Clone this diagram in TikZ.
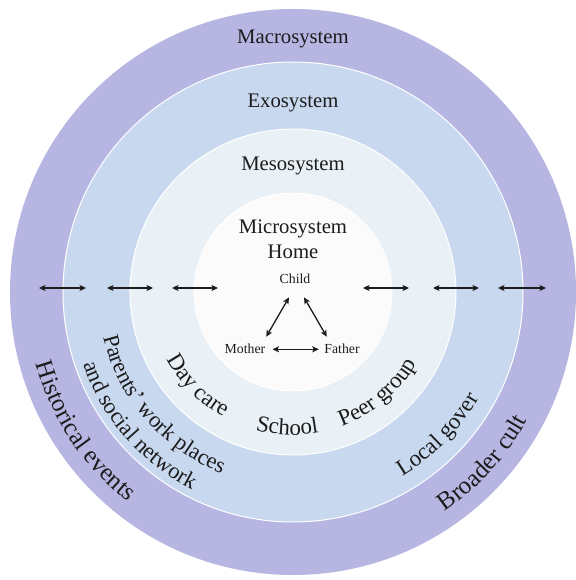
\documentclass[tikz,border=0pt]{standalone}
\usepackage{fontspec}
\setmainfont{Liberation Serif}
\usetikzlibrary{arrows.meta,decorations.text,calc}

\definecolor{macroC}{RGB}{183,181,226}
\definecolor{exoC}{RGB}{200,216,238}
\definecolor{mesoC}{RGB}{233,241,246}
\definecolor{microC}{RGB}{251,251,251}
\definecolor{ink}{RGB}{28,28,28}

% text set along a circular arc centred on the origin:
% #1 radius, #2 angle of the text centre, #3 font size, #4 text
\newcommand\bandtext[4]{%
  \path[decorate, decoration={text along path, text align=center,
      text color=ink, text={|\fontsize{#3}{#3}\selectfont|#4}}]
    ({#2-60}:#1) arc[start angle={#2-60}, end angle={#2+60}, radius=#1];}

\begin{document}
\begin{tikzpicture}[x=1pt,y=1pt,
  ring/.style={draw=white, line width=1pt},
  ringlabel/.style={font=\fontsize{20.7}{24}\selectfont, text=ink, anchor=base, inner sep=0pt},
  member/.style={font=\fontsize{13.8}{16}\selectfont, text=ink, anchor=base, inner sep=0pt},
  biarrow/.style={{Stealth[length=6.5pt,width=6pt,inset=1.5pt]}-{Stealth[length=6.5pt,width=6pt,inset=1.5pt]},
    line width=1.3pt, draw=ink}]
\useasboundingbox (-293,-288) rectangle (282,292);

% nested system bands
\fill[macroC] (0,0) circle[radius=283];
\draw[ring, fill=exoC] (0,0) circle[radius=230];
\draw[ring, fill=mesoC] (0,0) circle[radius=163];
\draw[ring, fill=microC] (0,0) circle[radius=99];

% band titles
\node[ringlabel] (macro) at (0,248.7) {Macrosystem};
\node[ringlabel] (exo) at (0,184.7) {Exosystem};
\node[ringlabel] (meso) at (0,121.3) {Mesosystem};
\node[ringlabel] (micro) at (0,58) {Microsystem};
\node[ringlabel] (home) at (0,33.7) {Home};

% family triangle
\node[member] (child) at (2,8.5) {Child};
\node[member] (mother) at (-48,-62) {Mother};
\node[member] (father) at (49,-62) {Father};
\draw[biarrow] ([shift={(-6,-13.5)}]child.south) -- ([shift={(0.7,7.5)}]mother.north east);
\draw[biarrow] ([shift={(9,-13.5)}]child.south) -- ([shift={(2.6,7.5)}]father.north west);
\draw[biarrow] ([xshift=7pt]mother.east) -- ([xshift=-5.4pt]father.west);

% two-way links across the bands
\coordinate (wa1) at (-254,4); \coordinate (wb1) at (-207,4);
\coordinate (wa2) at (-186,4); \coordinate (wb2) at (-140,4);
\coordinate (wa3) at (-121,4); \coordinate (wb3) at (-75,4);
\coordinate (ea1) at (70,4);   \coordinate (eb1) at (116,4);
\coordinate (ea2) at (140,4);  \coordinate (eb2) at (186,4);
\coordinate (ea3) at (205,4);  \coordinate (eb3) at (253,4);
\foreach \i in {1,2,3} {
  \draw[biarrow] (wa\i) -- (wb\i);
  \draw[biarrow] (ea\i) -- (eb\i);
}

% settings named along each band
\bandtext{143}{224.5}{23}{Day care}
\bandtext{143}{267.6}{23}{School}
\bandtext{143}{310}{23}{Peer group}
\bandtext{195}{221}{22.5}{Parents’ work places}
\bandtext{222}{221}{22.5}{and social network}
\bandtext{214}{315.5}{23}{Local gover}
\bandtext{267}{213.7}{25}{Historical events}
\bandtext{267}{318}{25}{Broader cult}
\end{tikzpicture}
\end{document}
